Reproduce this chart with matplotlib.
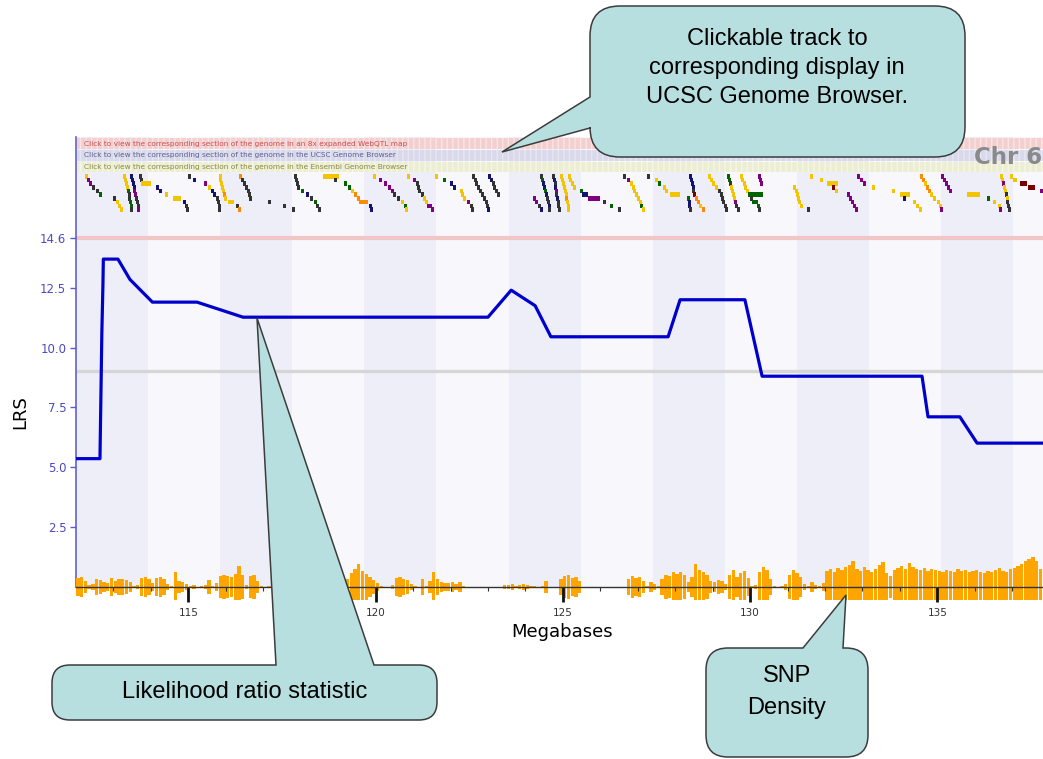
import numpy as np
import matplotlib.pyplot as plt
from matplotlib.path import Path
from matplotlib.patches import PathPatch

W, H = 1043, 759
plt.rcParams['hatch.linewidth'] = 1.0

# LRS scan along chromosome 6 (Mb, LRS)
lrs_mb = [112.00, 112.64, 112.67, 112.69, 112.72, 112.73, 113.12, 113.44, 114.04,
          115.23, 116.46, 123.00, 123.62, 124.26, 124.68, 127.81, 128.13, 129.86,
          130.32, 134.59, 134.75, 135.60, 136.06, 137.82]
lrs_val = [5.35, 5.35, 8.5, 10.6, 12.7, 13.7, 13.7, 12.85, 11.9,
           11.9, 11.27, 11.27, 12.4, 11.75, 10.45, 10.45, 12.0, 12.0,
           8.8, 8.8, 7.1, 7.1, 6.0, 6.0]
significant = 14.6
suggestive = 9.0
lrs_ticks = [2.5, 5.0, 7.5, 10.0, 12.5, 14.6]
mb_ticks = [115, 120, 125, 130, 135]
mb_range = (112.0, 137.82)

# SNP counts in 0.1 Mb bins starting at 112.0 Mb (one row per Mb)
snp_counts = [
    9, 10, 6, 2, 3, 8, 7, 5, 4, 9,
    6, 8, 8, 7, 5, 1, 2, 9, 10, 8,
    4, 9, 10, 8, 3, 1, 15, 6, 5, 3,
    1, 2, 0, 1, 2, 7, 1, 4, 11, 12,
    11, 10, 13, 21, 12, 2, 11, 12, 6, 1,
    0, 1, 0, 0, 0, 0, 0, 0, 0, 0,
    0, 0, 0, 0, 0, 0, 0, 0, 0, 0,
    0, 0, 8, 14, 18, 23, 16, 13, 10, 7,
    4, 1, 0, 0, 2, 9, 10, 8, 7, 3,
    1, 0, 8, 1, 6, 15, 8, 5, 4, 4,
    5, 3, 5, 1, 0, 0, 0, 0, 0, 0,
    0, 0, 0, 0, 2, 2, 3, 1, 2, 3,
    2, 1, 1, 0, 1, 6, 0, 0, 0, 8,
    11, 12, 9, 10, 6, 0, 0, 0, 0, 0,
    0, 0, 0, 0, 0, 0, 0, 8, 11, 9,
    10, 6, 1, 5, 3, 1, 8, 12, 11, 15,
    13, 15, 12, 5, 10, 23, 17, 15, 12, 6,
    5, 7, 6, 3, 12, 17, 10, 14, 16, 9,
    1, 2, 15, 20, 17, 8, 1, 0, 1, 3,
    12, 17, 14, 10, 3, 1, 5, 2, 1, 4,
    16, 18, 15, 19, 17, 20, 22, 26, 18, 16,
    20, 17, 15, 18, 22, 25, 14, 11, 17, 19,
    21, 18, 24, 20, 18, 17, 19, 16, 18, 17,
    16, 15, 17, 16, 15, 18, 16, 17, 15, 16,
    17, 15, 14, 16, 15, 17, 19, 16, 15, 18,
    19, 21, 23, 26, 28, 30, 26, 18,
]

# genes (start Mb), colour codes, and the few long ones
gene_start = [
    112.24, 112.29, 112.35, 112.43, 112.53, 112.61, 112.99, 113.07, 113.12, 113.17,
    113.25, 113.28, 113.31, 113.33, 113.36, 113.39, 113.40, 113.41, 113.43, 113.44,
    113.45, 113.47, 113.49, 113.51, 113.52, 113.55, 113.57, 113.60, 113.63, 113.64,
    113.68, 113.71, 113.74, 114.14, 114.22, 114.38, 114.59, 114.86, 114.91, 114.94,
    114.99, 115.12, 115.42, 115.52, 115.60, 115.66, 115.74, 115.76, 115.78, 115.79,
    115.81, 115.82, 115.85, 115.87, 115.90, 115.93, 115.95, 116.06, 116.27, 116.33,
    116.35, 116.41, 116.46, 116.51, 116.57, 116.59, 116.62, 117.13, 117.53, 117.77,
    117.82, 117.85, 117.87, 117.90, 118.01, 118.14, 118.25, 118.36, 118.41, 118.46,
    118.60, 118.89, 119.16, 119.26, 119.34, 119.42, 119.50, 119.56, 119.82, 119.85,
    119.93, 120.09, 120.22, 120.33, 120.41, 120.46, 120.57, 120.68, 120.76, 120.79,
    120.84, 121.00, 121.08, 121.10, 121.13, 121.21, 121.26, 121.32, 121.37, 121.48,
    121.58, 121.80, 121.99, 122.07, 122.25, 122.28, 122.33, 122.44, 122.52, 122.55,
    122.57, 122.63, 122.65, 122.71, 122.76, 122.81, 122.87, 122.92, 122.95, 122.97,
    123.00, 123.05, 123.11, 123.13, 123.19, 123.24, 124.20, 124.26, 124.34, 124.39,
    124.40, 124.42, 124.44, 124.47, 124.50, 124.52, 124.55, 124.58, 124.59, 124.60,
    124.71, 124.74, 124.75, 124.76, 124.79, 124.80, 124.82, 124.83, 124.84, 124.86,
    124.92, 124.95, 124.98, 125.00, 125.03, 125.06, 125.07, 125.08, 125.10, 125.11,
    125.14, 125.16, 125.22, 125.27, 125.46, 125.51, 125.67, 126.07, 126.26, 126.47,
    126.60, 126.71, 126.79, 126.85, 126.87, 126.93, 126.98, 127.03, 127.06, 127.11,
    127.25, 127.46, 127.54, 127.67, 127.73, 127.86, 128.32, 128.33, 128.34, 128.36,
    128.37, 128.40, 128.42, 128.45, 128.46, 128.48, 128.53, 128.58, 128.64, 128.72,
    128.88, 128.93, 128.98, 129.06, 129.14, 129.19, 129.22, 129.25, 129.30, 129.33,
    129.38, 129.41, 129.44, 129.46, 129.49, 129.52, 129.54, 129.57, 129.60, 129.65,
    129.73, 129.76, 129.81, 129.84, 129.89, 129.94, 130.00, 130.05, 130.18, 130.20,
    130.21, 130.24, 130.26, 131.15, 131.20, 131.23, 131.25, 131.28, 131.33, 131.52,
    131.60, 131.87, 132.05, 132.19, 132.27, 132.59, 132.64, 132.70, 132.75, 132.80,
    132.85, 132.93, 133.01, 133.25, 133.79, 134.00, 134.08, 134.35, 134.43, 134.51,
    134.54, 134.59, 134.64, 134.70, 134.75, 134.80, 134.88, 134.98, 135.04, 135.07,
    135.09, 135.15, 135.20, 135.25, 135.31, 135.79, 136.33, 136.49, 136.62, 136.65,
    136.68, 136.70, 136.73, 136.76, 136.78, 136.81, 136.82, 136.83, 136.86, 136.89,
    136.94, 137.02, 137.21, 137.42, 137.74,
]
gene_color = ("YPPKKGKYYY" "YYYYGKKGGK" "NNNNPPKKKP" "KKYNNYYNKK" "KNPYNNKKKK"
              "YYYYYOYYKO" "OKKKKKKKKK" "KKKKGNKGKK" "YKGGYOOONN" "YPPPPKKYGY"
              "YPKKKKYYPP" "YGNNYYYPKK" "KKKKKKKKKN" "NNKKKKPPKN" "KGNNGNKKNK"
              "KNKNPKNKKK" "YYYYYYOYYY" "YYYYGNPKGK" "KPYYYYYYGY" "KYGYYYGNNK"
              "NNNNKROOYO" "YYYYKKKKKK" "GGKYYYYPKK" "YYYYYGKGGK" "PPPYYYYYYK"
              "YYYRYPPPPP" "PPPYYYNYYY" "OOYOOYYYYP" "PPPPPYGYYP" "YYPYYKYKKK"
              "YYRRP")
gene_long = {113.74: 0.27, 114.59: 0.21, 116.06: 0.16, 118.60: 0.43, 119.56: 0.24,
             121.37: 0.13, 125.51: 0.16, 125.67: 0.32, 127.86: 0.27, 129.94: 0.40,
             130.05: 0.16, 132.05: 0.29, 134.00: 0.27, 135.79: 0.35, 137.02: 0.11,
             137.21: 0.19, 137.42: 0.19}
gene_palette = {'Y': '#f2c500', 'P': '#800080', 'K': '#333333', 'G': '#006400',
                'N': '#14146e', 'O': '#ff8c00', 'R': '#7a0000'}

track_labels = [
    "Click to view the corresponding section of the genome in an 8x expanded WebQTL map",
    "Click to view the corresponding section of the genome in the UCSC Genome Browser",
    "Click to view the corresponding section of the genome in the Ensembl Genome Browser",
]
track_fill = ['#f4cfd0', '#d9d9ec', '#eceed4']
track_hatch = ['#fae4e4', '#e6e6f3', '#f5f6e6']
track_text = ['#c85050', '#5e5e90', '#8a8a3c']


def px_box(x0, y0, x1, y1):
    return [x0 / W, 1 - y1 / H, (x1 - x0) / W, (y1 - y0) / H]


fig = plt.figure(figsize=(W / 100, H / 100), dpi=100)

# main LRS panel
ax = fig.add_axes(px_box(76, 137, 1043, 586.5))
ax.set_xlim(*mb_range)
ax.set_ylim(0, 18.81)
band = 1.925
edges = np.arange(mb_range[0], mb_range[1] + band, band)
for i, e in enumerate(edges):
    ax.axvspan(e, e + band, color='#eeeef8' if i % 2 == 0 else '#f8f8fc', lw=0, zorder=0)
ax.axhline(significant, color='#f2c6c6', lw=3, zorder=1)
ax.axhline(suggestive, color='#d6d6d6', lw=2.4, zorder=1)
ax.plot(lrs_mb, lrs_val, color='#0000cc', lw=2.3, zorder=3, solid_joinstyle='round')

ax.set_yticks(lrs_ticks)
ax.set_yticklabels([f'{v:.1f}' for v in lrs_ticks])
ax.tick_params(axis='y', colors='#5a5acc', labelcolor='#4a4ac4', labelsize=8.5,
               length=4, width=1, pad=3)
ax.set_xticks([])
for s in ['top', 'right', 'bottom']:
    ax.spines[s].set_visible(False)
ax.spines['left'].set_color('#6262cc')
ax.spines['left'].set_linewidth(1.2)

# clickable link tracks
ax_top = fig.add_axes(px_box(77, 137.5, 1043, 173))
ax_top.set_xlim(0, 1)
ax_top.set_ylim(3, 0)
ax_top.axis('off')
for i, txt in enumerate(track_labels):
    ax_top.barh(i + 0.5, 1, left=0, height=0.9, color=track_fill[i],
                edgecolor=track_hatch[i], hatch='|||', lw=0)
    ax_top.text(0.0075, i + 0.52, txt, va='center', ha='left', fontsize=5.3,
                color=track_text[i])
fig.text(974 / W, 1 - 157 / H, 'Chr 6', fontsize=16.5, fontweight='bold',
         color='#8a8a8a', va='center', ha='left')

# gene track, genes stacked in ten rows by order
ax_gene = fig.add_axes(px_box(76, 174, 1043, 212))
ax_gene.set_xlim(*mb_range)
ax_gene.set_ylim(10.3, 0)
ax_gene.axis('off')
rows = np.arange(len(gene_start)) % 10
lens = [gene_long.get(s, 0.08) for s in gene_start]
ax_gene.bar(gene_start, 1.25, width=lens, bottom=rows, align='edge',
            color=[gene_palette[c] for c in gene_color], lw=0)

# SNP density along the baseline
ax_snp = fig.add_axes(px_box(76, 555, 1043, 602))
ax_snp.set_xlim(*mb_range)
ax_snp.set_ylim(-15.5, 31.5)
ax_snp.patch.set_visible(False)
snp = np.array(snp_counts, dtype=float)
snp_x = mb_range[0] + 0.1 * np.arange(len(snp)) + 0.05
down = np.minimum(snp, 13)
ax_snp.bar(snp_x, snp + down, bottom=-down, width=0.088, color='#ffa500', lw=0)
for s in ['top', 'right', 'left']:
    ax_snp.spines[s].set_visible(False)
ax_snp.spines['bottom'].set_position(('data', 0))
ax_snp.spines['bottom'].set_color('#333333')
ax_snp.spines['bottom'].set_linewidth(1.0)
ax_snp.set_yticks([])
ax_snp.set_xticks(mb_ticks)
ax_snp.set_xticks(np.arange(113, 138), minor=True)
ax_snp.tick_params(axis='x', which='major', length=10.5, width=2, color='#111111',
                   labelsize=7.5, labelcolor='#333333', pad=5)
ax_snp.tick_params(axis='x', which='minor', length=3, width=0.8, color='#333333')

fig.text(562 / W, 1 - 632 / H, 'Megabases', fontsize=13, ha='center', va='center')
fig.text(20 / W, 1 - 412 / H, 'LRS', fontsize=13, rotation=90, ha='center', va='center')

# speech-bubble notes on top of everything
ov = fig.add_axes([0, 0, 1, 1])
ov.set_xlim(0, W)
ov.set_ylim(H, 0)
ov.axis('off')


def callout(x0, y0, x1, y1, r, side, a, b, tip):
    L, C = Path.LINETO, Path.CURVE3
    verts = [(x0 + r, y0)]
    codes = [Path.MOVETO]
    if side == 'top':
        verts += [(a, y0), tip, (b, y0)]
        codes += [L, L, L]
    verts += [(x1 - r, y0), (x1, y0), (x1, y0 + r), (x1, y1 - r), (x1, y1),
              (x1 - r, y1), (x0 + r, y1), (x0, y1), (x0, y1 - r)]
    codes += [L, C, C, L, C, C, L, C, C]
    if side == 'left':
        verts += [(x0, b), tip, (x0, a)]
        codes += [L, L, L]
    verts += [(x0, y0 + r), (x0, y0), (x0 + r, y0), (x0 + r, y0)]
    codes += [L, C, C, Path.CLOSEPOLY]
    ov.add_patch(PathPatch(Path(verts, codes), fc='#b8dfe0', ec='#3c3c3c', lw=1.1))


callout(590, 6, 965, 157, 30, 'left', 97, 128, (502, 152))
ov.text(777, 68, "Clickable track to\ncorresponding display in\nUCSC Genome Browser.",
        ha='center', va='center', fontsize=17, family='Liberation Sans', linespacing=1.4)

callout(52, 665, 437, 720, 18, 'top', 276, 374, (257, 318))
ov.text(245, 692, "Likelihood ratio statistic", ha='center', va='center',
        fontsize=17, family='Liberation Sans')

callout(706, 648, 868, 757, 22, 'top', 803, 843, (846, 595))
ov.text(787, 692, "SNP\nDensity", ha='center', va='center', fontsize=17,
        family='Liberation Sans', linespacing=1.55)

fig.savefig('out.png', dpi=100)
